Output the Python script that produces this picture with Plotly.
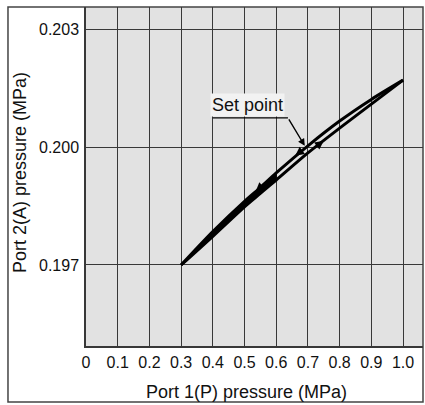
import plotly.graph_objects as go

# Supply (port 1) pressure, MPa
p1 = [0.30, 0.40, 0.50, 0.55, 0.60, 0.70, 0.80, 0.90, 1.00]
# Outlet (port 2) pressure on each branch of the hysteresis loop, MPa
p2_upper = [0.19700, 0.19785, 0.19862, 0.19897, 0.19934, 0.20003, 0.20066, 0.20121, 0.20170]
p2_lower = [0.19700, 0.19773, 0.19848, 0.19882, 0.19916, 0.19985, 0.20048, 0.20109, 0.20170]

x_ticks = [0, 0.1, 0.2, 0.3, 0.4, 0.5, 0.6, 0.7, 0.8, 0.9, 1.0]
x_tick_text = ["0", "0.1", "0.2", "0.3", "0.4", "0.5", "0.6", "0.7", "0.8", "0.9", "1.0"]
y_ticks = [0.197, 0.200, 0.203]
y_tick_text = ["0.197", "0.200", "0.203"]

set_point = (0.69, 0.20003)
set_label_anchor = (0.637, 0.20074)
set_label_start = 0.40

# direction marks on the loop: (x, y, dx_px, dy_px) tail offsets
branch_marks = [
    (0.535, 0.19887, 8, -7),
    (0.66, 0.19978, 8, -6),
    (0.75, 0.20016, -8, 6),
]

FONT = "Liberation Sans, Arial, sans-serif"
GRID = "#383838"

fig = go.Figure()

# merged, solid part of the loop at low supply pressure
n_solid = 5
solid_x = p1[:n_solid] + p1[:n_solid][::-1]
solid_y = p2_upper[:n_solid] + p2_lower[:n_solid][::-1]
fig.add_trace(go.Scatter(
    x=solid_x, y=solid_y, mode="lines", fill="toself",
    fillcolor="black", line=dict(color="black", width=1),
    showlegend=False, hoverinfo="skip",
))

for ys in (p2_upper, p2_lower):
    fig.add_trace(go.Scatter(
        x=p1, y=ys, mode="lines",
        line=dict(color="black", width=3, shape="spline", smoothing=0.8),
        showlegend=False, hoverinfo="skip",
    ))

annotations = []
for (mx, my, dx, dy) in branch_marks:
    annotations.append(dict(
        x=mx, y=my, xref="x", yref="y", text="", showarrow=True,
        ax=dx, ay=dy, arrowhead=2, arrowsize=0.8, arrowwidth=2.2,
        arrowcolor="black",
    ))

# Set point leader
annotations.append(dict(
    x=set_point[0], y=set_point[1], xref="x", yref="y",
    ax=set_label_anchor[0], ay=set_label_anchor[1], axref="x", ayref="y",
    text="", showarrow=True, arrowhead=2, arrowsize=1.0, arrowwidth=1.4,
    arrowcolor="black",
))
annotations.append(dict(
    x=(set_label_start + set_label_anchor[0]) / 2 - 0.01, y=set_label_anchor[1],
    xref="x", yref="y", text="Set point", showarrow=False,
    yanchor="bottom", yshift=1, bgcolor="#f2f2f2",
    font=dict(family=FONT, size=18, color="#111"),
))

# Axis titles
annotations.append(dict(
    x=(246 - 86) / 337, y=-0.135, xref="paper", yref="paper",
    text="Port 1(P) pressure (MPa)", showarrow=False,
    xanchor="center", yanchor="middle",
    font=dict(family=FONT, size=18, color="#111"),
))
annotations.append(dict(
    x=-0.196, y=(346 - 172) / 339, xref="paper", yref="paper",
    text="Port 2(A) pressure (MPa)", showarrow=False, textangle=-90,
    xanchor="center", yanchor="middle",
    font=dict(family=FONT, size=18, color="#111"),
))

shapes = [
    # horizontal leg of the set-point leader
    dict(type="line", xref="x", yref="y",
         x0=set_label_start, x1=set_label_anchor[0],
         y0=set_label_anchor[1], y1=set_label_anchor[1],
         line=dict(color="black", width=1.4)),
    # outer frame
    dict(type="rect", xref="paper", yref="paper",
         x0=-0.2315, x1=1.0, y0=-0.165, y1=1.0,
         line=dict(color="#444", width=1.5), layer="below"),
]

fig.update_layout(
    width=425, height=405,
    margin=dict(l=86, r=2, t=7, b=59),
    paper_bgcolor="white",
    plot_bgcolor="#e2e2e2",
    font=dict(family=FONT, size=16, color="#111"),
    annotations=annotations,
    shapes=shapes,
    xaxis=dict(
        range=[0, 1.063], tickvals=x_ticks, ticktext=x_tick_text,
        showgrid=True, gridcolor=GRID, gridwidth=1.4,
        showline=True, linecolor=GRID, linewidth=1.5,
        zeroline=False, ticks="outside", ticklen=1, tickcolor="rgba(0,0,0,0)",
        tickfont=dict(family=FONT, size=16, color="#111"),
        fixedrange=True,
    ),
    yaxis=dict(
        range=[0.19494, 0.20356], tickvals=y_ticks, ticktext=y_tick_text,
        showgrid=True, gridcolor=GRID, gridwidth=1.4,
        showline=True, linecolor=GRID, linewidth=1.5,
        zeroline=False, ticks="outside", ticklen=2, tickcolor="rgba(0,0,0,0)",
        tickfont=dict(family=FONT, size=16, color="#111"),
        fixedrange=True,
    ),
)

fig.write_html("out.html")
